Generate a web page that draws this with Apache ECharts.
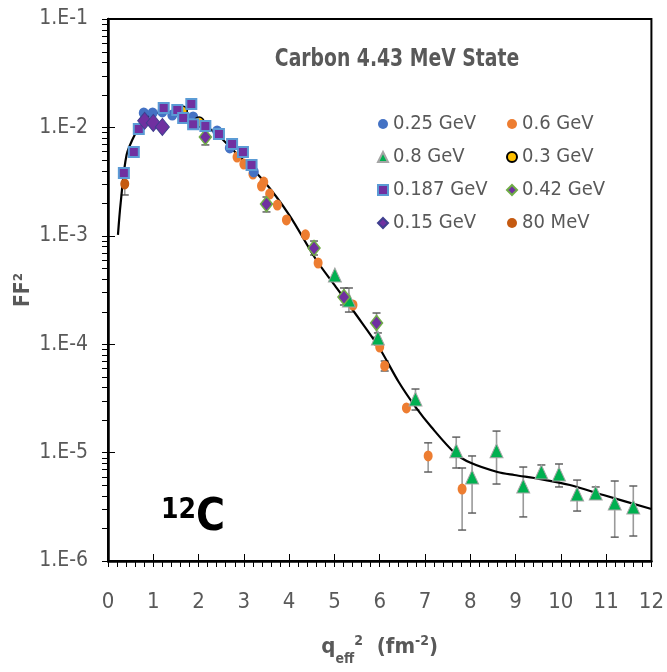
<!DOCTYPE html>
<html><head><meta charset="utf-8">
<script src="https://cdn.jsdelivr.net/npm/echarts@6/dist/echarts.min.js"></script>
<style>html,body{margin:0;padding:0;background:#fff;overflow:hidden}#c{width:667px;height:672px}</style>
</head><body><div id="c"></div>
<script>
const FONT = "'Liberation Sans Narrow','DejaVu Sans Condensed','Liberation Sans',sans-serif";
const GRAY = '#595959';

// Theory curve
const curveX = [0.22,0.28,0.41,0.61,0.8,1.1,1.6,2.04,2.4,2.76,3.42,4.0,4.6,5.0,5.5,5.98,6.42,6.79,7.14,7.66,8.02,8.6,8.97,9.55,10.2,10.94,12.0];
const curveY = [1.02e-3,2.01e-3,5.56e-3,8.87e-3,1.17e-2,1.36e-2,1.36e-2,1.10e-2,8.69e-3,6.19e-3,3.27e-3,1.56e-3,5.98e-4,3.52e-4,1.82e-4,9.42e-5,4.48e-5,2.64e-5,1.72e-5,9.9e-6,8.0e-6,6.62e-6,6.21e-6,5.70e-6,5.02e-6,4.06e-6,3.02e-6];

// Data series
const x025 = [0.79,0.985,1.2,1.42,1.88,2.41,2.69,3.22];
const y025 = [1.36e-2,1.36e-2,1.39e-2,1.30e-2,1.25e-2,9.27e-3,6.46e-3,3.88e-3];

const x06 = [2.85,3.0,3.2,3.39,3.44,3.57,3.74,3.94,4.36,4.64,5.41,6.0,6.11,6.59,7.07,7.82];
const y06 = [5.33e-3,4.59e-3,3.71e-3,2.88e-3,3.13e-3,2.43e-3,1.92e-3,1.40e-3,1.02e-3,5.61e-4,2.30e-4,9.42e-5,6.30e-5,2.58e-5,9.31e-6,4.61e-6];

const x08 = [5.01,5.32,5.96,6.79,7.69,8.04,8.58,9.17,9.57,9.96,10.36,10.77,11.19,11.6];
const y08 = [4.35e-4,2.56e-4,1.14e-4,3.12e-5,1.04e-5,5.96e-6,1.04e-5,4.92e-6,6.62e-6,6.35e-6,4.15e-6,4.24e-6,3.43e-6,3.15e-6];

const x03 = [1.64,2.01];
const y03 = [1.42e-2,1.12e-2];

const x0187 = [0.35,0.57,0.68,1.23,1.53,1.66,1.84,1.88,2.15,2.45,2.74,2.98,3.17];
const y0187 = [3.79e-3,5.93e-3,9.66e-3,1.51e-2,1.45e-2,1.22e-2,1.64e-2,1.07e-2,1.03e-2,8.69e-3,7.03e-3,5.93e-3,4.50e-3];

const x042 = [2.15,3.5,4.55,5.21,5.93];
const y042 = [8.15e-3,1.96e-3,7.71e-4,2.72e-4,1.57e-4];

const x015 = [0.81,1.0,1.2];
const y015 = [1.15e-2,1.10e-2,1.01e-2];

const x80 = [0.37];
const y80 = [3.01e-3];

// Error bars
const errX  = [0.37,2.15,3.5,4.55,5.21,5.32,5.93,5.96,6.11,6.79,7.07,7.82,7.69,8.04,8.58,9.17,9.57,9.96,10.36,10.77,11.19,11.6];
const errLo = [2.38e-3,6.89e-3,1.66e-3,6.65e-4,2.30e-4,1.98e-4,1.16e-4,9.84e-5,5.66e-5,2.47e-5,6.62e-6,1.93e-6,7.21e-6,2.77e-6,5.13e-6,2.55e-6,5.96e-6,4.82e-6,2.89e-6,3.89e-6,1.66e-6,1.70e-6];
const errHi = [3.48e-3,9.46e-3,2.28e-3,8.95e-4,3.30e-4,3.30e-4,1.94e-4,1.27e-4,7.0e-5,3.86e-5,1.23e-5,7.21e-6,1.39e-5,9.31e-6,1.58e-5,7.36e-6,7.69e-6,7.85e-6,5.58e-6,4.82e-6,5.47e-6,4.92e-6];

// Axis ticks / labels
const xTickLabels = ['0','1','2','3','4','5','6','7','8','9','10','11','12'];
const yDecades = [-6,-5,-4,-3,-2];
const yMinorMantissas = [2,3,4,5,6,7,8,9];
const yMinorTicks = [];
yDecades.forEach(e => yMinorMantissas.forEach(m => yMinorTicks.push(m * Math.pow(10, e))));

function zip(a, b) { return a.map((v, i) => [v, b[i]]); }

const chart = echarts.init(document.getElementById('c'), null, {renderer: 'canvas'});

function scatter(name, xs, ys, symbol, size, color, border, bw, z) {
  return {
    name, type: 'scatter', data: zip(xs, ys), symbol, symbolSize: size, z: z || 4,
    itemStyle: {color, borderColor: border, borderWidth: bw, opacity: 1},
    emphasis: {disabled: true}
  };
}

const legendText = {fontFamily: FONT, fontSize: 20, color: GRAY};

chart.setOption({
  animation: false,
  backgroundColor: '#fff',
  grid: {left: 108, right: 11, top: 19, bottom: 111, show: true, borderColor: '#000', borderWidth: 2, containLabel: false},
  graphic: [
    {type: 'text', x: 397, y: 60, scaleX: 0.87, z: 10,
     style: {text: 'Carbon 4.43 MeV State', textAlign: 'center', textVerticalAlign: 'middle', fontFamily: FONT, fontSize: 24, fontWeight: 'bold', fill: GRAY}},
    {type: 'text', x: 161, y: 497, z: 10, style: {text: '{s|12}{c|C}', rich: {
      s: {fontFamily: FONT, fontSize: 28, fontWeight: 'bold', fill: '#000', verticalAlign: 'top', padding: [0,0,14,0]},
      c: {fontFamily: FONT, fontSize: 44, fontWeight: 'bold', fill: '#000'}
    }}}
  ],
  legend: [
    {orient: 'vertical', left: 377, top: 114, padding: 0, itemWidth: 10, itemHeight: 10, itemGap: 13, textStyle: legendText,
     data: ['0.25 GeV','0.8 GeV','0.187 GeV','0.15 GeV'], selectedMode: false},
    {orient: 'vertical', left: 506, top: 114, padding: 0, itemWidth: 10, itemHeight: 10, itemGap: 13, textStyle: legendText,
     data: ['0.6 GeV','0.3 GeV','0.42 GeV','80 MeV'], selectedMode: false}
  ],
  xAxis: [
    {type: 'value', min: 0, max: 12, interval: 1, position: 'bottom',
     axisLine: {show: true, onZero: false, lineStyle: {color: '#000', width: 2.5}},
     axisTick: {show: true, inside: false, length: 6, lineStyle: {color: '#000', width: 1}},
     minorTick: {show: true, splitNumber: 5, length: 6, lineStyle: {color: '#000', width: 1}},
     splitLine: {show: false},
     axisLabel: {margin: 30, fontFamily: FONT, fontSize: 22, color: GRAY, formatter: v => xTickLabels[Math.round(v)]},
     name: '{q|q}{sub|eff}{sup|2}{b|  (fm}{sup2|-2}{b|)}', nameLocation: 'middle', nameGap: 73, nameMoveOverlap: false,
     nameTextStyle: {rich: {
       q: {fontFamily: FONT, fontSize: 22, fontWeight: 'bold', color: GRAY},
       sub: {fontFamily: FONT, fontSize: 14, fontWeight: 'bold', color: GRAY, verticalAlign: 'bottom', padding: [0,0,-6,0]},
       sup: {fontFamily: FONT, fontSize: 14, fontWeight: 'bold', color: GRAY, verticalAlign: 'top', padding: [0,0,12,0]},
       sup2: {fontFamily: FONT, fontSize: 14, fontWeight: 'bold', color: GRAY, verticalAlign: 'top', padding: [0,0,12,0]},
       b: {fontFamily: FONT, fontSize: 22, fontWeight: 'bold', color: GRAY}
     }}},
    {type: 'value', min: 0, max: 12, interval: 1, position: 'bottom', offset: 0,
     axisLine: {show: false}, axisLabel: {show: false}, splitLine: {show: false},
     axisTick: {show: true, inside: true, length: 7, lineStyle: {color: '#000', width: 1}}}
  ],
  yAxis: [
    {type: 'log', logBase: 10, min: 1e-6, max: 1e-1, position: 'left',
     axisLine: {show: true, onZero: false, lineStyle: {color: '#000', width: 2.5}},
     axisTick: {show: true, inside: false, length: 6, lineStyle: {color: '#000', width: 1}},
     minorTick: {show: false},
     splitLine: {show: false},
     axisLabel: {margin: 20, fontFamily: FONT, fontSize: 21, color: GRAY,
       formatter: v => '1.E' + Math.round(Math.log10(v))},
     name: 'FF²', nameLocation: 'middle', nameGap: 74, nameMoveOverlap: false,
     nameTextStyle: {fontFamily: FONT, fontSize: 21, fontWeight: 'bold', color: GRAY}},
    {type: 'log', logBase: 10, min: 1e-6, max: 1e-1, position: 'left', offset: 0,
     axisLine: {show: false}, axisLabel: {show: false}, splitLine: {show: false},
     axisTick: {show: true, inside: true, length: 7, lineStyle: {color: '#000', width: 1}}}
  ],
  series: [
    {name: 'yminor', type: 'custom', z: 1, silent: true, clip: false,
     data: yMinorTicks.map(v => [0, v]),
     renderItem: function (params, api) {
       const p = api.coord([0, api.value(1)]);
       return {type: 'line', shape: {x1: p[0] - 6, y1: Math.round(p[1]) + 0.5, x2: p[0], y2: Math.round(p[1]) + 0.5}, style: {stroke: '#000', lineWidth: 1}};
     }},
    {name: 'err', type: 'custom', z: 1, silent: true,
     data: errX.map((x, i) => [x, errLo[i], errHi[i]]),
     encode: {x: 0, y: [1, 2]},
     renderItem: function (params, api) {
       const x = api.value(0);
       const p1 = api.coord([x, api.value(2)]);
       const p2 = api.coord([x, api.value(1)]);
       const c = 4;
       return {type: 'group', children: [
         {type: 'line', shape: {x1: p1[0], y1: p1[1], x2: p2[0], y2: p2[1]}, style: {stroke: '#9a9a9a', lineWidth: 1.6}},
         {type: 'line', shape: {x1: p1[0]-c, y1: p1[1], x2: p1[0]+c, y2: p1[1]}, style: {stroke: '#555', lineWidth: 1.4}},
         {type: 'line', shape: {x1: p2[0]-c, y1: p2[1], x2: p2[0]+c, y2: p2[1]}, style: {stroke: '#555', lineWidth: 1.4}}
       ]};
     }},
    {name: 'theory', type: 'line', data: zip(curveX, curveY), smooth: 0.3, showSymbol: false, symbol: 'none', z: 2,
     lineStyle: {color: '#000', width: 2.2}, emphasis: {disabled: true}},
    scatter('0.6 GeV', x06, y06, 'circle', [9, 11], '#ED7D31', '#ED7D31', 0),
    scatter('0.25 GeV', x025, y025, 'circle', [10, 11], '#4472C4', '#4472C4', 0),
    scatter('0.8 GeV', x08, y08, 'triangle', [13, 14], '#00B050', '#A5A5A5', 1),
    scatter('0.3 GeV', x03, y03, 'circle', 10, '#FFC000', '#000', 1.5),
    scatter('0.187 GeV', x0187, y0187, 'rect', 10, '#7030A0', '#5B9BD5', 2, 5),
    scatter('0.42 GeV', x042, y042, 'diamond', [12, 15], '#7030A0', '#70AD47', 1.5),
    scatter('0.15 GeV', x015, y015, 'diamond', [14, 17], '#7030A0', '#3F3F8F', 1, 6),
    scatter('80 MeV', x80, y80, 'circle', [9, 11], '#C55A11', '#C55A11', 0)
  ]
});
</script>
</body></html>
